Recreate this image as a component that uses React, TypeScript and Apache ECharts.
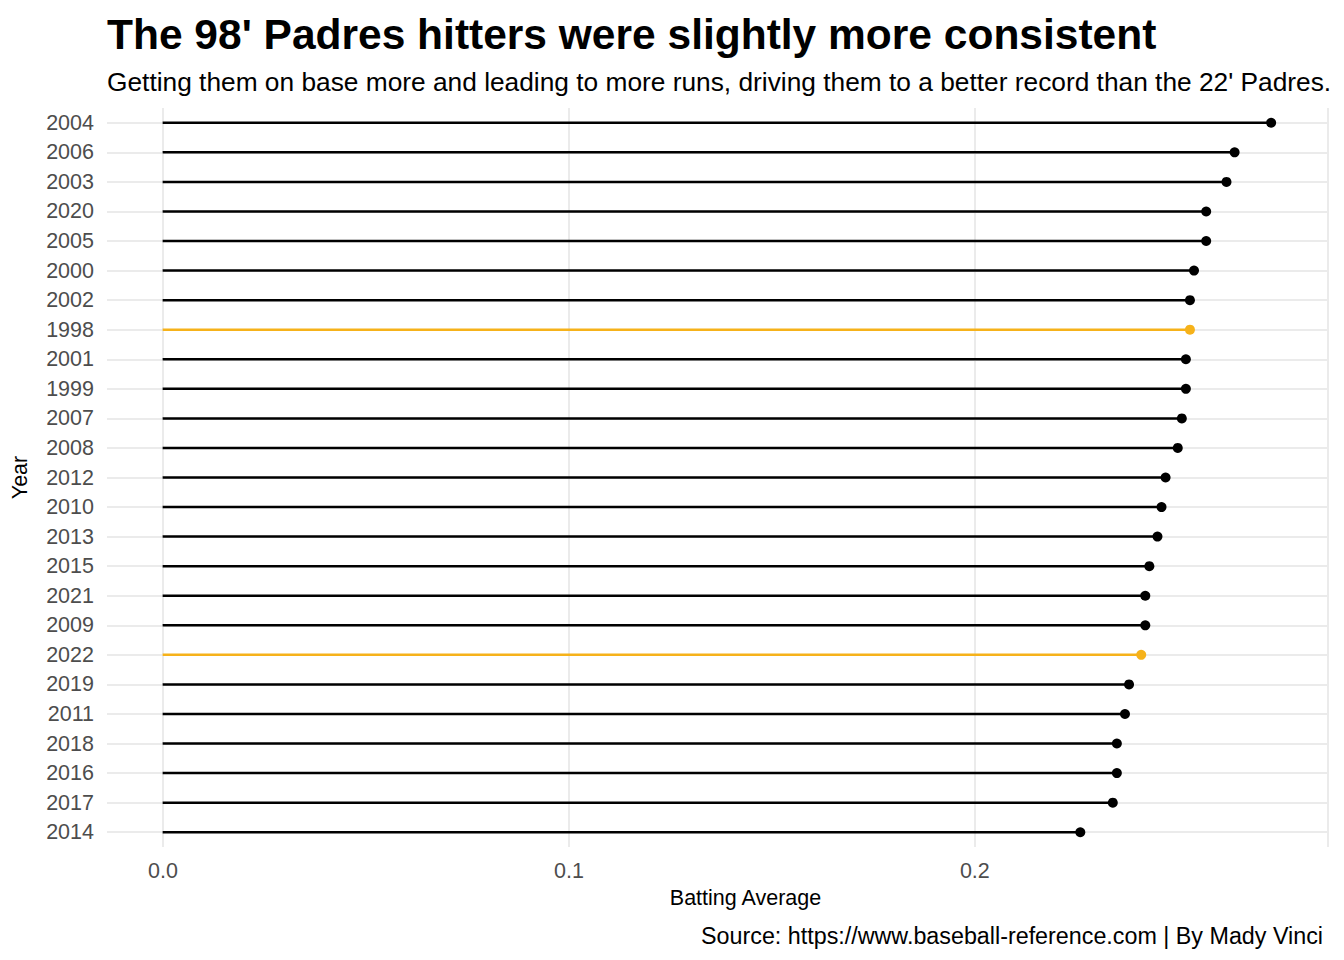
import React, { useEffect, useRef } from 'react';
import * as echarts from 'echarts';

const years = ['2004', '2006', '2003', '2020', '2005', '2000', '2002', '1998', '2001', '1999', '2007', '2008', '2012', '2010', '2013', '2015', '2021', '2009', '2022', '2019', '2011', '2018', '2016', '2017', '2014'];
const averages = [0.273, 0.264, 0.262, 0.257, 0.257, 0.254, 0.253, 0.253, 0.252, 0.252, 0.251, 0.250, 0.247, 0.246, 0.245, 0.243, 0.242, 0.242, 0.241, 0.238, 0.237, 0.235, 0.235, 0.234, 0.226];
const highlighted = ['1998', '2022'];

const GOLD = '#F6B21A';
const FONT = 'Liberation Sans, Arial, sans-serif';

const App: React.FC = () => {
  const chartRef = useRef<HTMLDivElement>(null);

  useEffect(() => {
    if (!chartRef.current) return;
    const chart = echarts.init(chartRef.current, undefined, { renderer: 'svg' });
    const colorOf = (y: string) => (highlighted.includes(y) ? GOLD : '#000');
    const top = 108;
    const height = 739;

    const option: echarts.EChartsOption = {
      animation: false,
      textStyle: { fontFamily: FONT },
      title: [
        { text: "The 98' Padres hitters were slightly more consistent", left: 102, top: 8, textStyle: { fontSize: 42.5, fontWeight: 'bold', color: '#000', fontFamily: FONT } },
        { text: "Getting them on base more and leading to more runs, driving them to a better record than the 22' Padres.", left: 102, top: 64, textStyle: { fontSize: 26.3, fontWeight: 'normal', color: '#000', fontFamily: FONT } },
        { text: 'Source: https://www.baseball-reference.com | By Mady Vinci', right: 16, top: 919, textStyle: { fontSize: 23.3, fontWeight: 'normal', color: '#000', fontFamily: FONT } },
      ],
      grid: [
        { left: 107, width: 1221, top, height },
        { left: 163, width: 1165, top, height },
      ],
      xAxis: [
        { gridIndex: 0, type: 'value', min: -0.0137, max: 0.287, axisLabel: { show: false }, axisLine: { show: false }, axisTick: { show: false }, splitLine: { show: false } },
        {
          gridIndex: 1, type: 'value', min: 0, max: 0.287, interval: 0.1,
          name: 'Batting Average', nameLocation: 'middle', nameGap: 40,
          nameTextStyle: { fontSize: 21.5, color: '#000', fontFamily: FONT },
          axisLabel: { fontSize: 21.5, color: '#4d4d4d', margin: 13, formatter: (v: number) => v.toFixed(1), showMaxLabel: false },
          axisLine: { show: false }, axisTick: { show: false },
          splitLine: { show: true, lineStyle: { color: '#ebebeb', width: 2 } },
        },
      ],
      yAxis: [
        {
          gridIndex: 0, type: 'category', data: years, inverse: true,
          name: 'Year', nameLocation: 'middle', nameGap: 76, nameRotate: 90,
          nameTextStyle: { fontSize: 21.5, color: '#000', fontFamily: FONT },
          axisLabel: { fontSize: 21.5, color: '#4d4d4d', margin: 13, interval: 0 },
          axisLine: { show: false }, axisTick: { show: false },
          splitLine: { show: false },
        },
        { gridIndex: 1, type: 'category', data: years, inverse: true, show: false },
      ],
      series: [
        {
          type: 'bar', xAxisIndex: 0, yAxisIndex: 0, barWidth: 2.5, z: 3,
          data: averages.map((v, i) => ({ value: v, itemStyle: { color: colorOf(years[i]) } })),
          markLine: {
            silent: true, symbol: 'none', label: { show: false }, z: 1,
            lineStyle: { color: '#ebebeb', width: 2, type: 'solid' },
            data: years.map((y) => ({ yAxis: y })),
          },
        },
        {
          type: 'scatter', xAxisIndex: 0, yAxisIndex: 0, symbolSize: 10, z: 4,
          data: averages.map((v, i) => ({ value: [v, years[i]], itemStyle: { color: colorOf(years[i]), opacity: 1 } })),
        },
      ],
    };
    chart.setOption(option);
    return () => chart.dispose();
  }, []);

  return <div ref={chartRef} style={{ position: 'fixed', left: 0, top: 0, width: 1344, height: 960, background: '#fff' }} />;
};

export default App;
